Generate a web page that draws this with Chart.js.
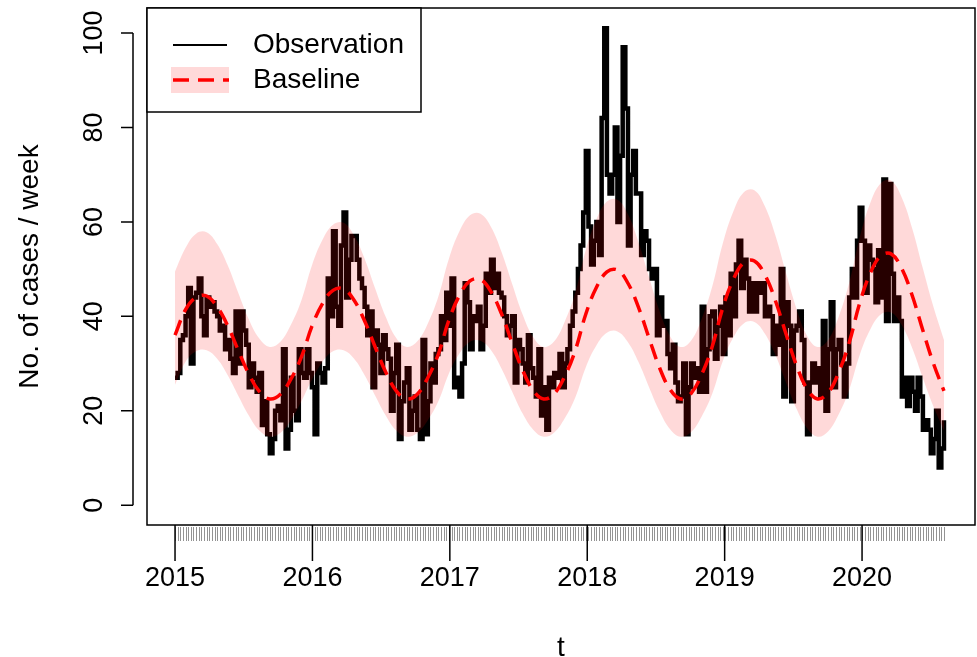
<!DOCTYPE html>
<html>
<head>
<meta charset="utf-8">
<script src="https://cdn.jsdelivr.net/npm/chart.js@4.4.1/dist/chart.umd.min.js"></script>
<style>
  html, body { margin: 0; padding: 0; background: #fff; }
</style>
</head>
<body>
<canvas id="grafico" width="977" height="657"></canvas>
<script>
// weekly counts, first week = start of 2015
const obs = [
  27, 28, 35, 36, 40, 46, 30, 44, 45, 48, 40, 36, 44, 42, 43, 41, 40, 37, 38, 33, 35, 31, 28, 41, 30,
  41, 37, 34, 25, 30, 27, 24, 28, 17, 22, 15, 11, 14, 20, 21, 18, 33, 12, 16, 27, 20, 18, 33, 28, 27, 33, 28, 25,
  15, 30, 28, 26, 29, 48, 40, 58, 42, 38, 55, 62, 44, 52, 57, 57, 52, 48, 46, 42, 36, 41, 25, 37, 34, 28, 36,
  33, 31, 20, 28, 34, 14, 22, 26, 29, 16, 20, 23, 16, 14, 35, 15, 22, 30, 26, 32, 33, 40, 35, 45, 38, 48, 25,
  27, 23, 30, 47, 43, 33, 40, 39, 42, 33, 38, 49, 45, 52, 46, 49, 45, 44, 40, 36, 38, 40, 26, 35, 33, 30, 26,
  36, 29, 27, 23, 33, 19, 25, 16, 27, 25, 28, 27, 32, 25, 30, 33, 38, 41, 45, 50, 55, 62, 75, 59, 51, 56, 60,
  53, 82, 101, 70, 66, 70, 80, 60, 74, 97, 84, 55, 70, 75, 66, 66, 53, 58, 56, 50, 48, 50, 36, 44, 38, 39, 32, 29,
  34, 26, 22, 23, 30, 15, 25, 30, 27, 29, 24, 42, 24, 33, 40, 41, 31, 38, 42, 32, 44, 36, 49, 40, 51, 56, 46,
  52, 48, 41, 47, 41, 47, 45, 47, 40, 42, 40, 32, 38, 34, 50, 23, 43, 38, 22, 37, 38, 41, 35, 26, 15, 26, 30, 26,
  29, 23, 39, 20, 33, 43, 25, 33, 35, 30, 23, 30, 44, 50, 44, 56, 63, 56, 45, 55, 52, 50, 43, 54, 44, 69, 39,
  68, 49, 39, 44, 39, 23, 27, 21, 27, 24, 20, 27, 23, 16, 18, 16, 11, 14, 20, 8, 12, 18
];

// baseline and band, one value every 4 weeks
const passoBanda = 4;
const baseline = [
  36, 41.4, 44, 44.3, 42, 38, 32.8, 27.8, 24.1, 22.5, 23.5, 26.7, 31.4,
  37.9, 42.7, 45.5, 45.8, 43.4, 39, 33.5, 28.2, 24.2, 22.5, 23.5, 27, 32,
  39.2, 44.4, 47.5, 47.8, 45.2, 40.5, 34.4, 28.6, 24.3, 22.5, 23.6, 27.3, 32.8,
  40.5, 46.1, 49.4, 49.8, 47, 41.9, 35.4, 29.1, 24.5, 22.5, 23.7, 27.7, 33.6,
  41.8, 47.8, 51.4, 51.7, 48.8, 43.3, 36.3, 29.6, 24.6, 22.5, 23.8, 28.1, 34.4,
  42.8, 49.1, 52.8, 53.2, 50.1, 44.3, 37, 30, 24.2
];
const upper = [
  49.5, 54.5, 57.5, 57.8, 55.3, 50.8, 45, 39.4, 35.3, 33.5, 34.6, 38.2, 43.4,
  50.8, 56.2, 59.4, 59.8, 57.1, 52.2, 45.9, 39.9, 35.4, 33.5, 34.7, 38.5, 44.2,
  52.2, 58, 61.4, 61.7, 58.9, 53.6, 46.9, 40.4, 35.6, 33.5, 34.7, 38.9, 45,
  54.1, 60.5, 64.3, 64.7, 61.6, 55.7, 48.3, 41.1, 35.8, 33.5, 34.9, 39.5, 46.3,
  55.4, 62.2, 66.3, 66.7, 63.3, 57.1, 49.2, 41.6, 35.9, 33.5, 35, 39.9, 47.1,
  56.7, 64, 68.2, 68.7, 65.1, 58.5, 50.1, 42, 35
];
const lower = [
  25.5, 30.4, 32.6, 32.8, 31, 27.5, 23.2, 19, 15.8, 14.5, 15.3, 18, 22,
  26.6, 30.4, 32.6, 32.8, 31, 27.5, 23.2, 19, 15.8, 14.5, 15.3, 18, 22,
  27.9, 32.1, 34.6, 34.8, 32.8, 28.9, 24.1, 19.4, 16, 14.5, 15.4, 18.4, 22.8,
  29.2, 33.8, 36.5, 36.8, 34.5, 30.3, 25, 19.9, 16.1, 14.5, 15.5, 18.8, 23.6,
  30.5, 35.5, 38.5, 38.8, 36.3, 31.8, 26, 20.4, 16.3, 14.5, 15.6, 19.2, 24.4,
  31.8, 37.2, 40.4, 40.8, 38.1, 33.2, 26.9, 20.9, 15.8
];

const anos = [2015, 2016, 2017, 2018, 2019, 2020];
const yTicks = [0, 20, 40, 60, 80, 100];

const semana = 7 / 365.25;
const xSemana = (i) => 2015 + i * semana;
const serie = (vals, passo) => vals.map((v, i) => ({ x: xSemana(i * passo), y: v }));

const fonte = '"Liberation Sans", Arial, sans-serif';

const eixosR = {
  id: "eixosR",
  afterDraw(chart) {
    const { ctx, chartArea: a, scales: { x, y } } = chart;
    ctx.save();
    ctx.strokeStyle = "#000";
    ctx.fillStyle = "#000";

    // caixa
    ctx.lineWidth = 1.5;
    ctx.strokeRect(a.left, a.top, a.right - a.left, a.bottom - a.top);

    // marcas semanais
    ctx.lineWidth = 0.8;
    ctx.strokeStyle = "#777";
    ctx.beginPath();
    for (let i = 0; i < obs.length; i++) {
      const px = Math.round(x.getPixelForValue(xSemana(i))) + 0.5;
      ctx.moveTo(px, a.bottom + 2);
      ctx.lineTo(px, a.bottom + 16);
    }
    ctx.stroke();

    // anos
    ctx.strokeStyle = "#000";
    ctx.lineWidth = 1.5;
    ctx.font = "27px " + fonte;
    ctx.textAlign = "center";
    ctx.textBaseline = "middle";
    anos.forEach((ano) => {
      const px = x.getPixelForValue(ano);
      ctx.beginPath();
      ctx.moveTo(px, a.bottom);
      ctx.lineTo(px, a.bottom + 36);
      ctx.stroke();
      ctx.fillText(String(ano), px, a.bottom + 54);
    });

    // eixo y
    const y0 = y.getPixelForValue(yTicks[0]);
    const y1 = y.getPixelForValue(yTicks[yTicks.length - 1]);
    const ax = a.left - 14;
    ctx.beginPath();
    ctx.moveTo(ax, y0);
    ctx.lineTo(ax, y1);
    yTicks.forEach((t) => {
      const py = y.getPixelForValue(t);
      ctx.moveTo(ax, py);
      ctx.lineTo(ax - 12, py);
    });
    ctx.stroke();
    yTicks.forEach((t) => {
      const py = y.getPixelForValue(t);
      ctx.save();
      ctx.translate(a.left - 52, py);
      ctx.rotate(-Math.PI / 2);
      ctx.fillText(String(t), 0, 0);
      ctx.restore();
    });

    // títulos
    ctx.font = "28px " + fonte;
    ctx.fillText("t", (a.left + a.right) / 2, 648);
    ctx.save();
    ctx.translate(30, (a.top + a.bottom) / 2);
    ctx.rotate(-Math.PI / 2);
    ctx.fillText("No. of cases / week", 0, 0);
    ctx.restore();

    // legenda
    const lx = a.left, ly = a.top, lw = 274, lh = 104;
    ctx.fillStyle = "#fff";
    ctx.fillRect(lx, ly, lw, lh);
    ctx.strokeStyle = "#000";
    ctx.lineWidth = 1.5;
    ctx.strokeRect(lx, ly, lw, lh);

    ctx.lineWidth = 2;
    ctx.beginPath();
    ctx.moveTo(lx + 26, ly + 37);
    ctx.lineTo(lx + 80, ly + 37);
    ctx.stroke();

    ctx.fillStyle = "rgba(255, 0, 0, 0.15)";
    ctx.fillRect(lx + 24, ly + 59, 58, 26);
    ctx.strokeStyle = "#ff0000";
    ctx.lineWidth = 3.5;
    ctx.setLineDash([16, 9]);
    ctx.beginPath();
    ctx.moveTo(lx + 26, ly + 72);
    ctx.lineTo(lx + 82, ly + 72);
    ctx.stroke();
    ctx.setLineDash([]);

    ctx.fillStyle = "#000";
    ctx.textAlign = "left";
    ctx.fillText("Observation", lx + 106, ly + 37);
    ctx.fillText("Baseline", lx + 106, ly + 72);
    ctx.restore();
  }
};

new Chart(document.getElementById("grafico").getContext("2d"), {
  type: "line",
  data: {
    datasets: [
      {
        label: "Baseline",
        data: serie(baseline, passoBanda),
        borderColor: "#ff0000",
        borderWidth: 3.5,
        borderDash: [16, 9],
        pointRadius: 0,
        tension: 0.4,
        fill: false,
        order: 0
      },
      {
        label: "upper",
        data: serie(upper, passoBanda),
        borderColor: "rgba(0,0,0,0)",
        borderWidth: 0,
        backgroundColor: "rgba(255, 0, 0, 0.15)",
        pointRadius: 0,
        tension: 0.4,
        fill: "+1",
        order: 1
      },
      {
        label: "lower",
        data: serie(lower, passoBanda),
        borderColor: "rgba(0,0,0,0)",
        borderWidth: 0,
        pointRadius: 0,
        tension: 0.4,
        fill: false,
        order: 1
      },
      {
        label: "Observation",
        data: serie(obs, 1),
        borderColor: "#000",
        borderWidth: 4.5,
        pointRadius: 0,
        stepped: "before",
        fill: false,
        order: 2
      }
    ]
  },
  options: {
    responsive: false,
    animation: false,
    devicePixelRatio: 1,
    layout: { padding: { left: 147, top: 8, right: 2, bottom: 132 } },
    plugins: {
      legend: { display: false },
      tooltip: { enabled: false }
    },
    scales: {
      x: { type: "linear", display: false, min: 2014.796, max: 2020.822 },
      y: { display: false, min: -4.2, max: 105.3 }
    }
  },
  plugins: [eixosR]
});
</script>
</body>
</html>
